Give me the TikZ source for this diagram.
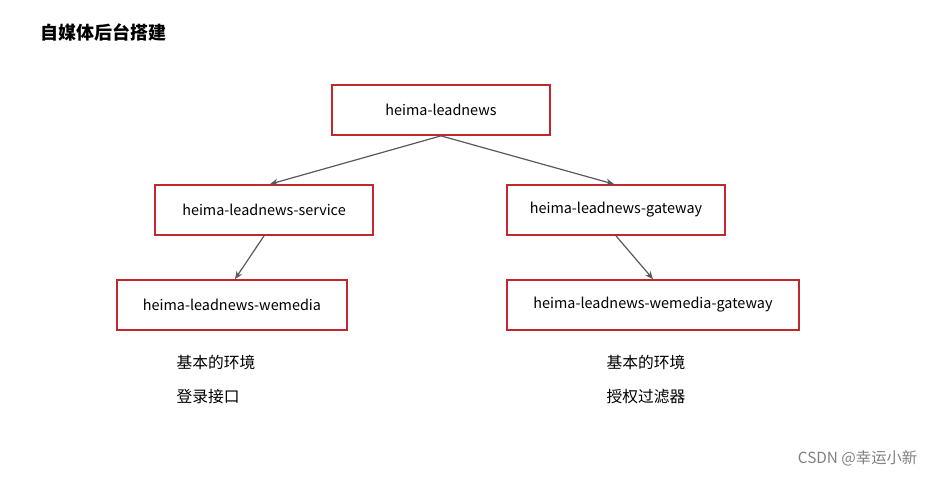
\documentclass[tikz,border=0pt]{standalone}
\usepackage{fontspec}
\setmainfont{Noto Sans CJK SC}
\usetikzlibrary{arrows.meta}
\definecolor{boxred}{HTML}{C0282D}
\definecolor{arrgray}{HTML}{595959}
\tikzset{
  module/.style={draw=boxred, line width=1.3pt, minimum height=50*0.75pt, font=\fontsize{10.8}{12}\selectfont, inner sep=0pt},
  link/.style={draw=arrgray, line width=0.9pt, -{Stealth[length=6pt,width=5pt]}},
  note/.style={anchor=west, font=\fontsize{11.8}{13}\selectfont}
}
\begin{document}
\begin{tikzpicture}[x=0.75pt,y=-0.75pt]
\useasboundingbox (0,0) rectangle (936,476);
\node[anchor=west, font=\fontsize{13.5}{15}\selectfont\bfseries] (title) at (36,32) {自媒体后台搭建};
\node[module, minimum width=218*0.75pt] (root) at (441,110) {heima-leadnews};
\node[module, minimum width=218*0.75pt] (service) at (264,210) {heima-leadnews-service};
\node[module, minimum width=218*0.75pt] (gateway) at (616,210) {heima-leadnews-gateway};
\node[module, minimum width=230*0.75pt] (wemedia) at (232,305) {heima-leadnews-wemedia};
\node[module, minimum width=292*0.75pt] (wmgateway) at (653,305) {heima-leadnews-wemedia-gateway};
\path[link] (root.south) -- (service.north -| 270,0);
\path[link] (root.south) -- (gateway.north -| 614,0);
\path[link] (service.south) -- (wemedia.north -| 235,0);
\path[link] (gateway.south) -- (wmgateway.north -| 653,0);
\node[note] (env1) at (172,362) {基本的环境};
\node[note] (login) at (172,397) {登录接口};
\node[note] (env2) at (602,362) {基本的环境};
\node[note] (filter) at (602,397) {授权过滤器};
\node[anchor=east, font=\fontsize{11.5}{13}\selectfont, text=gray] (mark) at (922,458) {CSDN @幸运小新};
\end{tikzpicture}
\end{document}
